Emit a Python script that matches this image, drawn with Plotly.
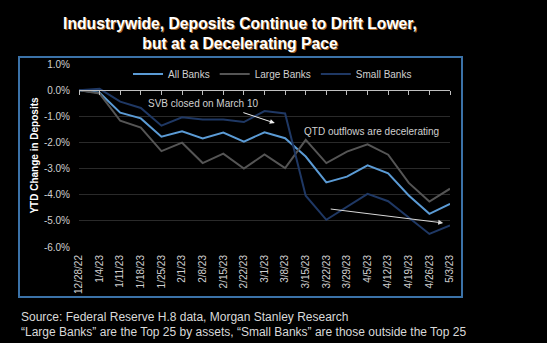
import plotly.graph_objects as go

dates = ["12/28/22", "1/4/23", "1/11/23", "1/18/23", "1/25/23", "2/1/23", "2/8/23",
         "2/15/23", "2/22/23", "3/1/23", "3/8/23", "3/15/23", "3/22/23", "3/29/23",
         "4/5/23", "4/12/23", "4/19/23", "4/26/23", "5/3/23"]
all_banks = [0.0, -0.10, -0.86, -1.08, -1.78, -1.57, -1.85, -1.62, -1.97, -1.61,
             -1.84, -2.54, -3.53, -3.31, -2.88, -3.18, -4.03, -4.73, -4.35]
large_banks = [0.0, -0.13, -1.17, -1.43, -2.33, -2.01, -2.79, -2.43, -3.00, -2.46,
               -2.98, -1.90, -2.79, -2.35, -2.07, -2.47, -3.55, -4.26, -3.77]
small_banks = [0.0, 0.05, -0.44, -0.68, -1.36, -1.04, -1.12, -1.12, -1.22, -0.80,
               -0.89, -4.04, -4.96, -4.45, -3.97, -4.25, -4.88, -5.50, -5.17]
y_ticks = [1, 0, -1, -2, -3, -4, -5, -6]
footnotes = ["Source: Federal Reserve H.8 data, Morgan Stanley Research",
             "\u201cLarge Banks\u201d are the Top 25 by assets, \u201cSmall Banks\u201d are those outside the Top 25"]

W, H = 547, 343
L, R, T, B = 79, 97, 64, 96
PW, PH = W - L - R, H - T - B

def px(x):
    return (x - L) / PW

def py(y):
    return (H - B - y) / PH

FONT = "Liberation Sans, Arial, sans-serif"
fig = go.Figure()
x = list(range(len(dates)))
series = [("All Banks", all_banks, "#5b9bd5"),
          ("Large Banks", large_banks, "#555555"),
          ("Small Banks", small_banks, "#1f3864")]
for name, vals, col in series:
    fig.add_trace(go.Scatter(x=x, y=vals, name=name, mode="lines",
                             line=dict(color=col, width=2)))
# invisible trace carrying the zero axis with its tick marks
fig.add_trace(go.Scatter(x=x, y=[0] * len(x), xaxis="x2", mode="lines",
                         line=dict(width=0), showlegend=False, hoverinfo="skip"))

fig.update_layout(
    width=W, height=H,
    margin=dict(l=L, r=R, t=T, b=B),
    paper_bgcolor="black", plot_bgcolor="black",
    font=dict(family=FONT, size=10, color="#d0d0d0"),
    title=dict(text="<b>Industrywide, Deposits Continue to Drift Lower,<br>but at a Decelerating Pace</b>",
               x=240 / W, xanchor="center", xref="container",
               y=1 - 29 / H, yanchor="top", yref="container",
               font=dict(family=FONT, size=15.7, color="white",
                         shadow="1px 1px 0px #a0642a")),
    showlegend=True,
    legend=dict(orientation="h", x=px(128), y=py(74), xanchor="left", yanchor="middle",
                bgcolor="rgba(0,0,0,0)", font=dict(size=10, color="#d0d0d0"),
                itemwidth=30, tracegroupgap=0),
    xaxis=dict(range=[0, len(dates) - 1], tickmode="array", tickvals=x, ticktext=dates,
               tickangle=-90, showgrid=False, zeroline=False, showline=False,
               ticks="", ticklabelstandoff=5, tickfont=dict(size=10, color="#d0d0d0")),
    xaxis2=dict(range=[0, len(dates) - 1], overlaying="x", anchor="free",
                position=6 / 7,
                tickmode="array", tickvals=x, showticklabels=False,
                ticks="outside", ticklen=4, tickcolor="#bfbfbf", tickwidth=1,
                showline=True, linecolor="#bfbfbf", linewidth=1, showgrid=False,
                zeroline=False),
    yaxis=dict(range=[-6, 1], tickmode="array", tickvals=y_ticks,
               ticktext=[f"{v:.1f}%" for v in y_ticks],
               showgrid=True, gridcolor="#2a2a2a", gridwidth=1, zeroline=False,
               showline=False, ticklabelstandoff=8, tickfont=dict(size=10, color="#d0d0d0"),
               title=dict(text="<b>YTD Change in Deposits</b>", standoff=3,
                          font=dict(size=10, color="white"))),
)

fig.add_shape(type="rect", xref="paper", yref="paper",
              x0=px(19), x1=px(462), y0=py(297), y1=py(57),
              line=dict(color="#3b72a8", width=2), layer="below")

fig.add_annotation(x=9.5, y=-1.26, ax=7.9, ay=-0.84, xref="x", yref="y",
                   axref="x", ayref="y", showarrow=True, arrowhead=2, arrowsize=1,
                   arrowwidth=1, arrowcolor="#f0f0f0", text="")
fig.add_annotation(x=17.67, y=-5.08, ax=12.14, ay=-4.54, xref="x", yref="y",
                   axref="x", ayref="y", showarrow=True, arrowhead=2, arrowsize=1,
                   arrowwidth=1, arrowcolor="#d8d8d8", text="")
fig.add_annotation(x=6.02, y=-0.5, xref="x", yref="y", text="SVB closed on March 10",
                   showarrow=False, font=dict(size=10, color="#d0d0d0"))
fig.add_annotation(x=14.2, y=-1.6, xref="x", yref="y", text="QTD outflows are decelerating",
                   showarrow=False, font=dict(size=10, color="#d0d0d0"))
for ypix, line in zip([317, 332], footnotes):
    fig.add_annotation(x=px(19), y=py(ypix), xref="paper", yref="paper", xanchor="left",
                       yanchor="middle", align="left", showarrow=False, text=line,
                       font=dict(family=FONT, size=12, color="#d9d9d9"))

fig.write_html("out.html")
